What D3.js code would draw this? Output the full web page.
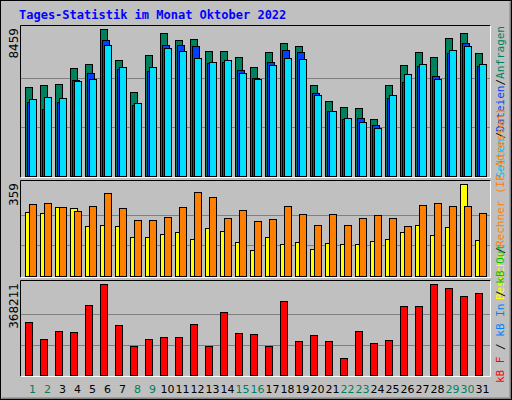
<!DOCTYPE html>
<html><head><meta charset="utf-8">
<script src="https://cdn.jsdelivr.net/npm/d3@7"></script>
<style>body{margin:0;background:#fff}svg{display:block}</style>
</head><body>
<svg id="c" width="512" height="400"></svg>
<script>
// daily stats, October 2022
const days = d3.range(1, 32)
const weekend = [1, 2, 8, 9, 15, 16, 22, 23, 29, 30]
const hits = [5104,5219,5277,6197,6427,8459,6658,4816,6945,8211,7808,7866,7175,7175,6830,6255,7118,7636,7463,5219,4298,3953,3896,3263,5219,6370,7118,6830,7923,8211,7060]
const files = [4241,3838,4241,5507,5909,7808,6140,4068,6024,7521,7521,7463,6485,6542,6082,5622,6542,7233,7118,4759,3723,3263,3320,2917,4471,5392,6312,5737,7060,7636,6312]
const pages = [4413,4528,4471,5449,5564,7521,6255,4183,6255,7348,7175,6773,6542,6658,5909,5564,6370,6773,6715,4644,3723,3320,3090,2745,4644,5852,6427,5564,7233,7463,6427]
const visits = [251,247,271,267,196,200,196,153,153,165,173,146,189,177,134,103,153,126,134,107,130,126,126,138,146,173,200,161,193,359,142]
const sites = [282,286,271,255,274,325,267,220,220,232,271,329,310,228,259,216,224,274,243,200,243,200,228,239,228,196,278,286,274,274,247]
const kbytes = [213664,145130,177382,173350,282198,368211,201570,116911,145130,153193,153193,205601,116911,253978,169319,165287,116911,298324,137068,161256,137068,68534,177382,129005,141099,278167,278167,368211,350732,318481,330575]
const maxLabels = ["8459", "359", "368211"]

const svg = d3.select("#c")
const mono = "DejaVu Sans Mono, monospace"

// background + 3d border
svg.append("rect").attr("width", 512).attr("height", 400).attr("fill", "#c0c0c0")
svg.append("path").attr("d", "M0.5,399.5V0.5H511.5").attr("stroke", "#fff").attr("fill", "none")
svg.append("path").attr("d", "M1.5,398.5H510.5V1.5").attr("stroke", "#808080").attr("stroke-width", 2).attr("fill", "none")
svg.append("rect").attr("x", 0.5).attr("y", 0.5).attr("width", 511).attr("height", 399).attr("fill", "none").attr("stroke", "#000")

svg.append("text").attr("x", 19).attr("y", 19).text("Tages-Statistik im Monat Oktober 2022")
  .attr("font-family", mono).attr("font-weight", "bold").attr("font-size", 12).attr("fill", "#0000ff")

const x = d3.scaleBand().domain(days).range([25, 490])

const panels = [
  { top: 25, bottom: 177, max: 8459 },
  { top: 180, bottom: 277, max: 359 },
  { top: 280, bottom: 376, max: 368211 }
]
panels.forEach((p, i) => {
  p.y = d3.scaleLinear().domain([0, p.max]).range([p.bottom - 1, p.bottom - 1 - (p.bottom - p.top - 5)])
  svg.append("path").attr("d", `M20.5,${p.bottom + 0.5}V${p.top + 0.5}H490.5`).attr("stroke", "#000").attr("fill", "none")
  svg.append("path").attr("d", `M20.5,${p.bottom + 0.5}H490.5V${p.top + 0.5}`).attr("stroke", "#fff").attr("fill", "none")
  ;[1 / 3, 2 / 3].forEach(f => {
    const gy = Math.round(p.y(p.max * f)) + 0.5
    svg.append("line").attr("x1", 21).attr("x2", 490).attr("y1", gy).attr("y2", gy).attr("stroke", "#808080")
  })
  svg.append("text").attr("transform", `translate(18,${p.top + 3}) rotate(-90)`)
    .attr("text-anchor", "end").attr("font-family", "DejaVu Sans, sans-serif").attr("font-size", 12)
    .text(maxLabels[i])
})

function bars(vals, p, dx, w, color) {
  svg.append("g").selectAll("rect").data(vals).join("rect")
    .attr("x", (d, i) => x(days[i]) + dx + 0.5)
    .attr("y", d => Math.round(p.y(d)) + 0.5)
    .attr("width", w)
    .attr("height", d => p.y(0) - Math.round(p.y(d)))
    .attr("fill", color).attr("stroke", "#000")
}
bars(hits, panels[0], 0, 7, "#00805c")
bars(files, panels[0], 2, 7, "#0040ff")
bars(pages, panels[0], 4, 7, "#00e0ff")
bars(visits, panels[1], 0, 7, "#ffff00")
bars(sites, panels[1], 4, 7, "#ff8000")
bars(kbytes, panels[2], 0, 7, "#ff0000")

// day labels
svg.append("g").selectAll("text").data(days).join("text")
  .attr("x", d => x(d) + 7.5).attr("y", 393).attr("text-anchor", "middle")
  .attr("font-family", "DejaVu Sans, sans-serif").attr("font-size", 11)
  .attr("fill", d => weekend.includes(d) ? "#00805c" : "#000").text(d => d)

// right side legends
function legend(parts, y, anchor) {
  const t = svg.append("text").attr("transform", `translate(504,${y}) rotate(-90)`)
    .attr("text-anchor", anchor).attr("font-family", mono).attr("font-size", 11)
  parts.forEach(([s, c]) => t.append("tspan").text(s).attr("fill", c))
}
legend([["Seiten", "#00c0ff"], ["/", "#000"], ["Dateien", "#0040ff"], ["/", "#000"], ["Anfragen", "#00805c"]], 26, "end")
legend([["Besuche", "#ffff00"], ["/", "#000"], ["Rechner (IP-Adressen)", "#ff8000"]], 300, "start")
legend([["kB F", "#ff0000"], [" / ", "#000"], ["kB In", "#0080ff"], [" / ", "#000"], ["kB Out", "#00c000"]], 383, "start")
</script>
</body></html>
